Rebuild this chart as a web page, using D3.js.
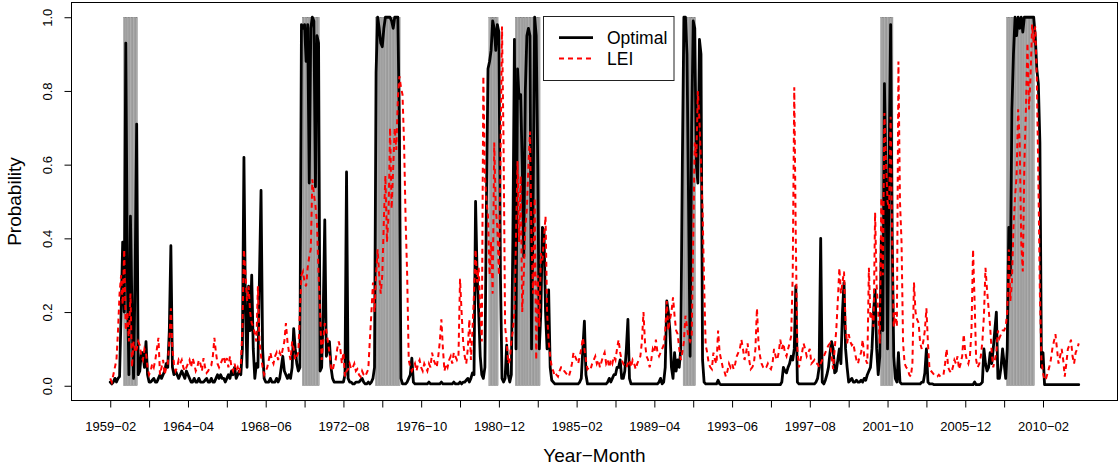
<!DOCTYPE html>
<html>
<head>
<meta charset="utf-8">
<script src="https://cdn.jsdelivr.net/npm/d3@7"></script>
<style>
  body { margin: 0; background: #ffffff; }
  text { font-family: "Liberation Sans", Arial, Helvetica, sans-serif; fill: #000; }
</style>
</head>
<body>
<div id="vis"></div>
<script>
const FRAME_WIDTH = 1120;
const FRAME_HEIGHT = 466;

// monthly probabilities, month index 1..624
const optimal = [
0.01,0.005,0.01,0.02,0.01,0.02,0.025,0.2,0.39,0.2,
0.93,0.3,0.03,0.46,0.2,0.02,0.3,0.71,0.03,0.04,
0.09,0.09,0.05,0.12,0.03,0.01,0.01,0.015,0.02,0.01,
0.01,0.02,0.03,0.02,0.03,0.04,0.06,0.05,0.15,0.38,
0.05,0.03,0.04,0.03,0.02,0.03,0.04,0.03,0.02,0.04,
0.03,0.02,0.01,0.01,0.02,0.01,0.01,0.02,0.01,0.01,
0.01,0.015,0.02,0.01,0.01,0.02,0.01,0.01,0.02,0.03,
0.02,0.03,0.02,0.02,0.01,0.02,0.03,0.02,0.04,0.03,
0.05,0.02,0.03,0.04,0.03,0.1,0.62,0.2,0.05,0.27,
0.15,0.3,0.1,0.02,0.06,0.05,0.3,0.53,0.1,0.02,
0.01,0.01,0.01,0.02,0.01,0.01,0.01,0.02,0.01,0.02,
0.05,0.08,0.04,0.03,0.02,0.03,0.02,0.05,0.155,0.1,
0.06,0.04,0.05,0.98,0.97,0.98,0.88,0.98,0.55,0.97,
1.0,0.99,0.54,0.95,0.93,0.04,0.05,0.2,0.45,0.08,
0.1,0.12,0.05,0.02,0.01,0.01,0.01,0.01,0.01,0.01,
0.01,0.03,0.58,0.02,0.01,0.01,0.005,0.005,0.01,0.01,
0.01,0.015,0.02,0.01,0.005,0.005,0.01,0.005,0.01,0.02,
0.05,0.85,1.0,0.97,0.93,0.92,0.97,1.0,1.0,1.0,
1.0,0.99,0.97,1.0,1.0,1.0,0.7,0.02,0.005,0.005,
0.005,0.01,0.02,0.03,0.075,0.01,0.005,0.005,0.005,0.005,
0.005,0.005,0.005,0.005,0.005,0.01,0.005,0.005,0.005,0.005,
0.005,0.005,0.005,0.01,0.005,0.005,0.005,0.005,0.005,0.005,
0.005,0.01,0.005,0.005,0.005,0.01,0.005,0.01,0.01,0.015,
0.02,0.01,0.02,0.035,0.03,0.5,0.3,0.2,0.08,0.03,
0.02,0.05,0.5,0.86,0.88,0.91,0.99,0.97,0.91,0.98,
0.96,0.3,0.02,0.01,0.02,0.11,0.03,0.01,0.03,0.4,
0.94,0.1,0.86,0.78,0.79,0.6,0.35,0.8,0.95,0.97,
0.95,0.1,0.48,1.0,0.95,0.6,0.1,0.2,0.43,0.42,
0.2,0.1,0.26,0.05,0.015,0.01,0.005,0.005,0.005,0.005,
0.005,0.005,0.005,0.005,0.005,0.005,0.005,0.005,0.005,0.005,
0.005,0.005,0.01,0.02,0.1,0.175,0.03,0.005,0.005,0.005,
0.005,0.005,0.005,0.005,0.005,0.005,0.005,0.005,0.005,0.005,
0.01,0.02,0.01,0.02,0.03,0.03,0.05,0.05,0.07,0.02,
0.02,0.04,0.1,0.18,0.02,0.005,0.005,0.005,0.005,0.005,
0.005,0.005,0.005,0.005,0.005,0.005,0.005,0.005,0.005,0.005,
0.005,0.005,0.005,0.01,0.02,0.005,0.01,0.05,0.23,0.2,
0.15,0.05,0.02,0.09,0.04,0.07,0.05,0.1,0.6,1.0,
1.0,0.9,0.5,0.08,0.7,0.99,0.97,0.6,0.55,0.94,
0.9,0.07,0.01,0.005,0.005,0.005,0.005,0.005,0.005,0.005,
0.005,0.015,0.005,0.003,0.003,0.003,0.003,0.003,0.003,0.003,
0.003,0.003,0.003,0.003,0.003,0.003,0.003,0.003,0.003,0.003,
0.003,0.003,0.003,0.003,0.003,0.003,0.003,0.003,0.003,0.003,
0.003,0.003,0.003,0.003,0.003,0.003,0.003,0.003,0.003,0.003,
0.003,0.003,0.01,0.05,0.04,0.035,0.05,0.06,0.08,0.07,
0.1,0.27,0.01,0.005,0.005,0.005,0.005,0.005,0.005,0.005,
0.005,0.005,0.005,0.005,0.01,0.02,0.05,0.4,0.01,0.005,
0.015,0.03,0.05,0.09,0.12,0.1,0.035,0.04,0.07,0.1,
0.06,0.2,0.28,0.1,0.05,0.01,0.015,0.02,0.01,0.01,
0.015,0.01,0.01,0.015,0.01,0.02,0.015,0.03,0.04,0.05,
0.1,0.2,0.26,0.1,0.03,0.08,0.4,0.15,0.82,0.57,
0.1,0.6,0.98,0.4,0.08,0.02,0.01,0.09,0.01,0.005,
0.005,0.005,0.005,0.005,0.005,0.005,0.005,0.005,0.005,0.005,
0.005,0.005,0.01,0.01,0.035,0.1,0.01,0.005,0.005,0.005,
0.003,0.003,0.003,0.003,0.003,0.003,0.003,0.003,0.003,0.003,
0.003,0.003,0.003,0.003,0.003,0.003,0.003,0.003,0.003,0.003,
0.003,0.003,0.003,0.003,0.003,0.003,0.01,0.003,0.003,0.003,
0.005,0.01,0.1,0.06,0.04,0.05,0.09,0.06,0.1,0.15,
0.2,0.02,0.02,0.05,0.1,0.06,0.02,0.1,0.43,0.3,
0.75,0.9,1.0,0.95,1.0,0.97,1.0,0.96,1.0,1.0,
1.0,1.0,1.0,1.0,1.0,0.95,0.86,0.82,0.66,0.05,
0.09,0.003,0.003,0.003,0.003,0.003,0.003,0.003,0.003,0.003,
0.003,0.003,0.003,0.003,0.003,0.003,0.003,0.003,0.003,0.003,
0.003,0.003,0.003,0.003
];

const lei = [
0.02,0.01,0.03,0.05,0.07,0.15,0.25,0.3,0.22,0.37,
0.15,0.2,0.12,0.25,0.05,0.12,0.09,0.1,0.12,0.11,
0.08,0.07,0.1,0.09,0.05,0.03,0.04,0.06,0.05,0.07,
0.1,0.13,0.03,0.05,0.07,0.03,0.05,0.06,0.12,0.21,
0.1,0.06,0.04,0.05,0.07,0.06,0.07,0.05,0.04,0.05,
0.06,0.07,0.05,0.075,0.06,0.04,0.05,0.07,0.06,0.04,
0.075,0.05,0.035,0.04,0.05,0.055,0.08,0.13,0.09,0.06,
0.05,0.06,0.07,0.08,0.06,0.075,0.05,0.08,0.05,0.04,
0.06,0.04,0.05,0.035,0.06,0.15,0.37,0.3,0.23,0.27,
0.2,0.17,0.16,0.14,0.12,0.27,0.12,0.08,0.05,0.03,
0.04,0.05,0.07,0.09,0.07,0.06,0.08,0.09,0.07,0.09,
0.08,0.1,0.12,0.17,0.12,0.09,0.07,0.12,0.1,0.07,
0.08,0.09,0.2,0.3,0.31,0.28,0.27,0.32,0.35,0.37,
0.56,0.52,0.49,0.44,0.3,0.2,0.07,0.12,0.17,0.15,
0.12,0.09,0.05,0.04,0.06,0.07,0.1,0.12,0.1,0.06,
0.09,0.025,0.04,0.045,0.06,0.045,0.05,0.06,0.04,0.045,
0.03,0.025,0.04,0.03,0.025,0.035,0.045,0.125,0.2,0.28,
0.2,0.3,0.37,0.3,0.25,0.3,0.45,0.57,0.39,0.46,
0.7,0.48,0.59,0.7,0.64,0.78,0.84,0.81,0.79,0.66,
0.45,0.3,0.07,0.05,0.04,0.05,0.06,0.04,0.06,0.07,
0.05,0.04,0.06,0.05,0.04,0.06,0.05,0.09,0.07,0.06,
0.05,0.08,0.12,0.18,0.1,0.04,0.06,0.05,0.07,0.08,
0.06,0.09,0.08,0.07,0.08,0.29,0.2,0.12,0.08,0.06,
0.1,0.18,0.07,0.15,0.25,0.37,0.28,0.32,0.21,0.12,
0.84,0.57,0.5,0.46,0.3,0.39,0.25,0.66,0.48,0.43,
0.3,0.6,0.975,0.66,0.16,0.12,0.06,0.07,0.12,0.15,
0.2,0.4,0.61,0.39,0.57,0.2,0.3,0.43,0.48,0.6,
0.69,0.39,0.25,0.51,0.07,0.3,0.16,0.36,0.34,0.4,
0.46,0.2,0.12,0.08,0.05,0.04,0.025,0.03,0.025,0.04,
0.05,0.05,0.04,0.035,0.03,0.025,0.04,0.06,0.09,0.08,
0.07,0.06,0.08,0.1,0.13,0.1,0.07,0.045,0.05,0.045,
0.06,0.07,0.08,0.06,0.07,0.05,0.065,0.08,0.09,0.06,
0.07,0.05,0.07,0.06,0.08,0.07,0.1,0.125,0.09,0.07,
0.06,0.05,0.05,0.06,0.07,0.05,0.07,0.06,0.045,0.06,
0.07,0.08,0.12,0.2,0.115,0.08,0.07,0.05,0.07,0.1,
0.09,0.125,0.09,0.08,0.09,0.1,0.11,0.15,0.23,0.15,
0.18,0.2,0.24,0.19,0.15,0.14,0.1,0.07,0.09,0.12,
0.19,0.16,0.13,0.12,0.13,0.4,0.66,0.62,0.8,0.72,
0.6,0.48,0.28,0.11,0.09,0.06,0.05,0.045,0.09,0.07,
0.06,0.15,0.09,0.07,0.05,0.04,0.025,0.04,0.06,0.05,
0.06,0.045,0.06,0.08,0.09,0.1,0.125,0.1,0.07,0.09,
0.115,0.07,0.045,0.05,0.06,0.1,0.21,0.115,0.08,0.06,
0.05,0.045,0.05,0.06,0.05,0.045,0.06,0.1,0.08,0.07,
0.09,0.125,0.1,0.115,0.09,0.08,0.1,0.115,0.135,0.3,
0.81,0.39,0.1,0.05,0.07,0.09,0.115,0.1,0.08,0.09,
0.1,0.06,0.065,0.07,0.06,0.06,0.05,0.06,0.07,0.08,
0.09,0.1,0.11,0.115,0.08,0.045,0.1,0.15,0.23,0.32,
0.25,0.28,0.31,0.16,0.115,0.14,0.12,0.11,0.115,0.09,
0.07,0.06,0.08,0.09,0.125,0.08,0.07,0.06,0.32,0.18,
0.2,0.16,0.47,0.27,0.2,0.115,0.51,0.3,0.74,0.61,
0.5,0.48,0.73,0.39,0.16,0.2,0.16,0.88,0.5,0.39,
0.115,0.06,0.05,0.045,0.03,0.025,0.06,0.28,0.2,0.18,
0.17,0.115,0.1,0.12,0.15,0.21,0.115,0.045,0.04,0.035,
0.03,0.025,0.025,0.03,0.025,0.03,0.03,0.06,0.1,0.05,
0.04,0.035,0.05,0.07,0.06,0.08,0.045,0.06,0.08,0.14,
0.09,0.07,0.06,0.08,0.15,0.37,0.23,0.07,0.05,0.06,
0.08,0.12,0.19,0.32,0.26,0.21,0.16,0.09,0.05,0.07,
0.09,0.15,0.13,0.14,0.15,0.15,0.16,0.2,0.37,0.23,
0.28,0.43,0.51,0.57,0.75,0.66,0.39,0.31,0.6,0.75,
0.93,0.75,0.84,0.98,0.93,0.975,0.84,0.57,0.25,0.07,
0.035,0.015,0.02,0.035,0.05,0.07,0.1,0.12,0.14,0.1,
0.06,0.08,0.1,0.07,0.025,0.06,0.1,0.11,0.125,0.08,
0.06,0.09,0.1,0.115
];

// recession months (first and last month index of each shaded band)
const recStart = [10, 125, 172, 245, 262, 370, 497, 578];
const recEnd   = [18, 135, 187, 250, 277, 377, 504, 595];

// x ticks every 25 months, labels shown on every other tick
const xTickLabels = ["1959\u221202", "1964\u221204", "1968\u221206", "1972\u221208",
                     "1976\u221210", "1980\u221212", "1985\u221202", "1989\u221204",
                     "1993\u221206", "1997\u221208", "2001\u221210", "2005\u221212",
                     "2010\u221202"];
const yTicks = [0, 0.2, 0.4, 0.6, 0.8, 1.0];

const N = optimal.length;

const FRAME = d3.select("#vis")
                .append("svg")
                  .attr("width", FRAME_WIDTH)
                  .attr("height", FRAME_HEIGHT);

// R style padding: 4% on each side of the data range
const padX = 0.04 * (N - 1);
const X = d3.scaleLinear()
            .domain([1 - padX, N + padX])
            .range([71.5, 1117.5]);
const Y = d3.scaleLinear()
            .domain([-0.04, 1.04])
            .range([400.5, 2.5]);

// shaded recession months, one rect per month
const recMonths = recStart.flatMap((s, k) => d3.range(s, recEnd[k] + 1));
FRAME.append("g")
  .selectAll("rect")
  .data(recMonths)
  .enter()
  .append("rect")
    .attr("x", (d) => X(d - 0.5))
    .attr("width", (d) => X(d + 0.5) - X(d - 0.5))
    .attr("y", Y(1))
    .attr("height", Y(0) - Y(1))
    .attr("fill", "#adadad")
    .attr("stroke", "#7f7f7f")
    .attr("stroke-width", 0.35);

const line = d3.line()
               .x((d, i) => X(i + 1))
               .y((d) => Y(d));

FRAME.append("path")
  .datum(optimal)
    .attr("d", line)
    .attr("fill", "none")
    .attr("stroke", "#000")
    .attr("stroke-width", 2.8)
    .attr("stroke-linejoin", "round")
    .attr("stroke-linecap", "round");

FRAME.append("path")
  .datum(lei)
    .attr("d", line)
    .attr("fill", "none")
    .attr("stroke", "#ff0000")
    .attr("stroke-width", 2)
    .attr("stroke-dasharray", "5,4");

// x axis
const xTicks = d3.range(1, N, 25);
FRAME.append("g")
    .attr("transform", "translate(0," + 400.5 + ")")
    .call(d3.axisBottom(X)
            .tickValues(xTicks)
            .tickSize(7)
            .tickPadding(14)
            .tickFormat((d, i) => (i % 2 === 0 ? xTickLabels[i / 2] : "")))
    .call((g) => g.select(".domain").remove())
    .call((g) => g.selectAll("text").attr("font-size", 13).attr("font-family", null));

// y axis, labels turned like R does
FRAME.append("g")
    .attr("transform", "translate(71.5,0)")
    .call(d3.axisLeft(Y)
            .tickValues(yTicks)
            .tickSize(7)
            .tickFormat(d3.format(".1f")))
    .call((g) => g.select(".domain").remove())
    .call((g) => g.selectAll("text")
                   .attr("font-size", 13)
                   .attr("font-family", null)
                   .attr("x", null)
                   .attr("dy", "0.35em")
                   .attr("text-anchor", "middle")
                   .attr("transform", "translate(-24.5,0) rotate(-90)"));

// plot box
FRAME.append("rect")
    .attr("x", 71.5)
    .attr("y", 2.5)
    .attr("width", 1046)
    .attr("height", 398)
    .attr("fill", "none")
    .attr("stroke", "#000");

// axis titles
FRAME.append("text")
    .attr("x", (71.5 + 1117.5) / 2)
    .attr("y", 462)
    .attr("text-anchor", "middle")
    .attr("font-size", 19)
    .text("Year\u2212Month");

FRAME.append("text")
    .attr("transform", "translate(21," + (2.5 + 400.5) / 2 + ") rotate(-90)")
    .attr("text-anchor", "middle")
    .attr("font-size", 19)
    .text("Probability");

// legend
const LEGEND = FRAME.append("g");
LEGEND.append("rect")
    .attr("x", 543.5)
    .attr("y", 16.5)
    .attr("width", 130.5)
    .attr("height", 64)
    .attr("fill", "#fff")
    .attr("stroke", "#222");

const legendItems = [
  { label: "Optimal", color: "#000", width: 2.8, dash: null, y: 37.7 },
  { label: "LEI", color: "#ff0000", width: 2, dash: "5,4", y: 58.5 }
];

LEGEND.selectAll("line")
  .data(legendItems)
  .enter()
  .append("line")
    .attr("x1", 559)
    .attr("x2", 593)
    .attr("y1", (d) => d.y)
    .attr("y2", (d) => d.y)
    .attr("stroke", (d) => d.color)
    .attr("stroke-width", (d) => d.width)
    .attr("stroke-dasharray", (d) => d.dash);

LEGEND.selectAll("text")
  .data(legendItems)
  .enter()
  .append("text")
    .attr("x", 607)
    .attr("y", (d) => d.y + 6.4)
    .attr("font-size", 17.5)
    .text((d) => d.label);
</script>
</body>
</html>
